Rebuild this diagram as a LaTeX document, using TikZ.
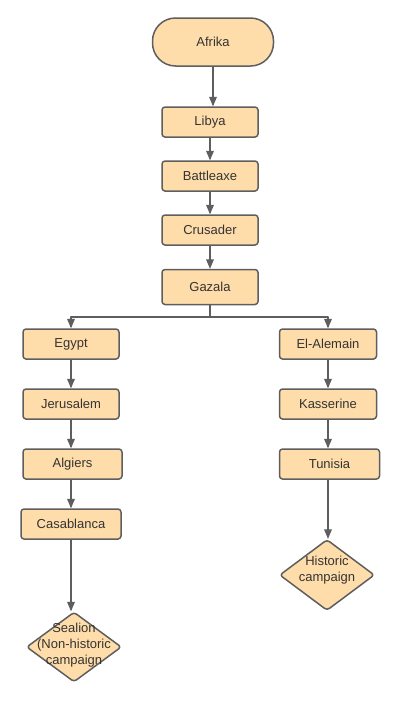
\documentclass[tikz,border=0pt]{standalone}
\usepackage{fontspec}
\setmainfont{Liberation Sans}
\usepackage{pgf,tikz}
\usetikzlibrary{shapes.geometric}
\usetikzlibrary{arrows}

\definecolor{boxfill}{HTML}{FFDDAA}
\definecolor{boxline}{HTML}{5E5E5E}
\definecolor{boxtext}{HTML}{333333}

\begin{document}
\begin{tikzpicture}[line cap=round,line join=round,>=triangle 45,x=1pt,y=-1pt]
\useasboundingbox (0,0) rectangle (400,702);
\tikzstyle{stepbox}= [draw=boxline, fill=boxfill, line width=1.5pt, rounded corners=3pt, text=boxtext, font=\fontsize{13}{16}\selectfont, minimum height=30pt, inner sep=0pt];
\tikzstyle{startbox}= [stepbox, rounded corners=23pt, minimum width=121pt, minimum height=48pt];
\tikzstyle{decision}= [draw=boxline, fill=boxfill, line width=1.5pt, diamond, rounded corners=3pt, minimum width=95pt, minimum height=71pt, inner sep=0pt];
\tikzstyle{decisiontext}= [text=boxtext, font=\fontsize{13}{16}\selectfont, align=center, inner sep=0pt];
\tikzstyle{link}= [draw=boxline, line width=1.2pt, ->];
% main line
\node [startbox] (afrika) at (213,42) {Afrika};
\node [stepbox, minimum width=96pt] (libya) at (210,122) {Libya};
\node [stepbox, minimum width=96pt] (battleaxe) at (210,176) {Battleaxe};
\node [stepbox, minimum width=96pt] (crusader) at (210,230) {Crusader};
\node [stepbox, minimum width=96pt, minimum height=35pt] (gazala) at (210,287) {Gazala};
% left branch
\node [stepbox, minimum width=96pt] (egypt) at (71,344) {Egypt};
\node [stepbox, minimum width=96pt] (jerusalem) at (71,404) {Jerusalem};
\node [stepbox, minimum width=99pt] (algiers) at (72.5,464) {Algiers};
\node [stepbox, minimum width=100pt] (casablanca) at (71,524) {Casablanca};
\node [decision, minimum height=70pt] (sealion) at (74,647) {};
\node [decisiontext] (sealiontext) at (74,645) {Sealion\\(Non-historic\\campaign};
% right branch
\node [stepbox, minimum width=97pt] (alemain) at (328,344) {El-Alemain};
\node [stepbox, minimum width=97pt] (kasserine) at (328,404) {Kasserine};
\node [stepbox, minimum width=100pt] (tunisia) at (329.5,464) {Tunisia};
\node [decision] (historic) at (327,575) {};
\node [decisiontext] (historictext) at (327,570) {Historic\\campaign};
% connectors
\draw [link] (afrika.south) -- (afrika.south |- libya.north);
\draw [link] (libya) -- (battleaxe);
\draw [link] (battleaxe) -- (crusader);
\draw [link] (crusader) -- (gazala);
\coordinate (split) at (210,317);
\draw [link] (gazala.south) -- (split) -| (egypt.north);
\draw [link] (gazala.south) -- (split) -| (alemain.north);
\draw [link] (egypt) -- (jerusalem);
\draw [link] (jerusalem) -- (jerusalem |- algiers.north);
\draw [link] (casablanca |- algiers.south) -- (casablanca.north);
\draw [link] (casablanca.south) -- (casablanca.south |- sealion.north);
\draw [link] (alemain) -- (kasserine);
\draw [link] (kasserine.south) -- (kasserine.south |- tunisia.north);
\draw [link] (kasserine.south |- tunisia.south) -- (kasserine.south |- historic.north);
\end{tikzpicture}
\end{document}
